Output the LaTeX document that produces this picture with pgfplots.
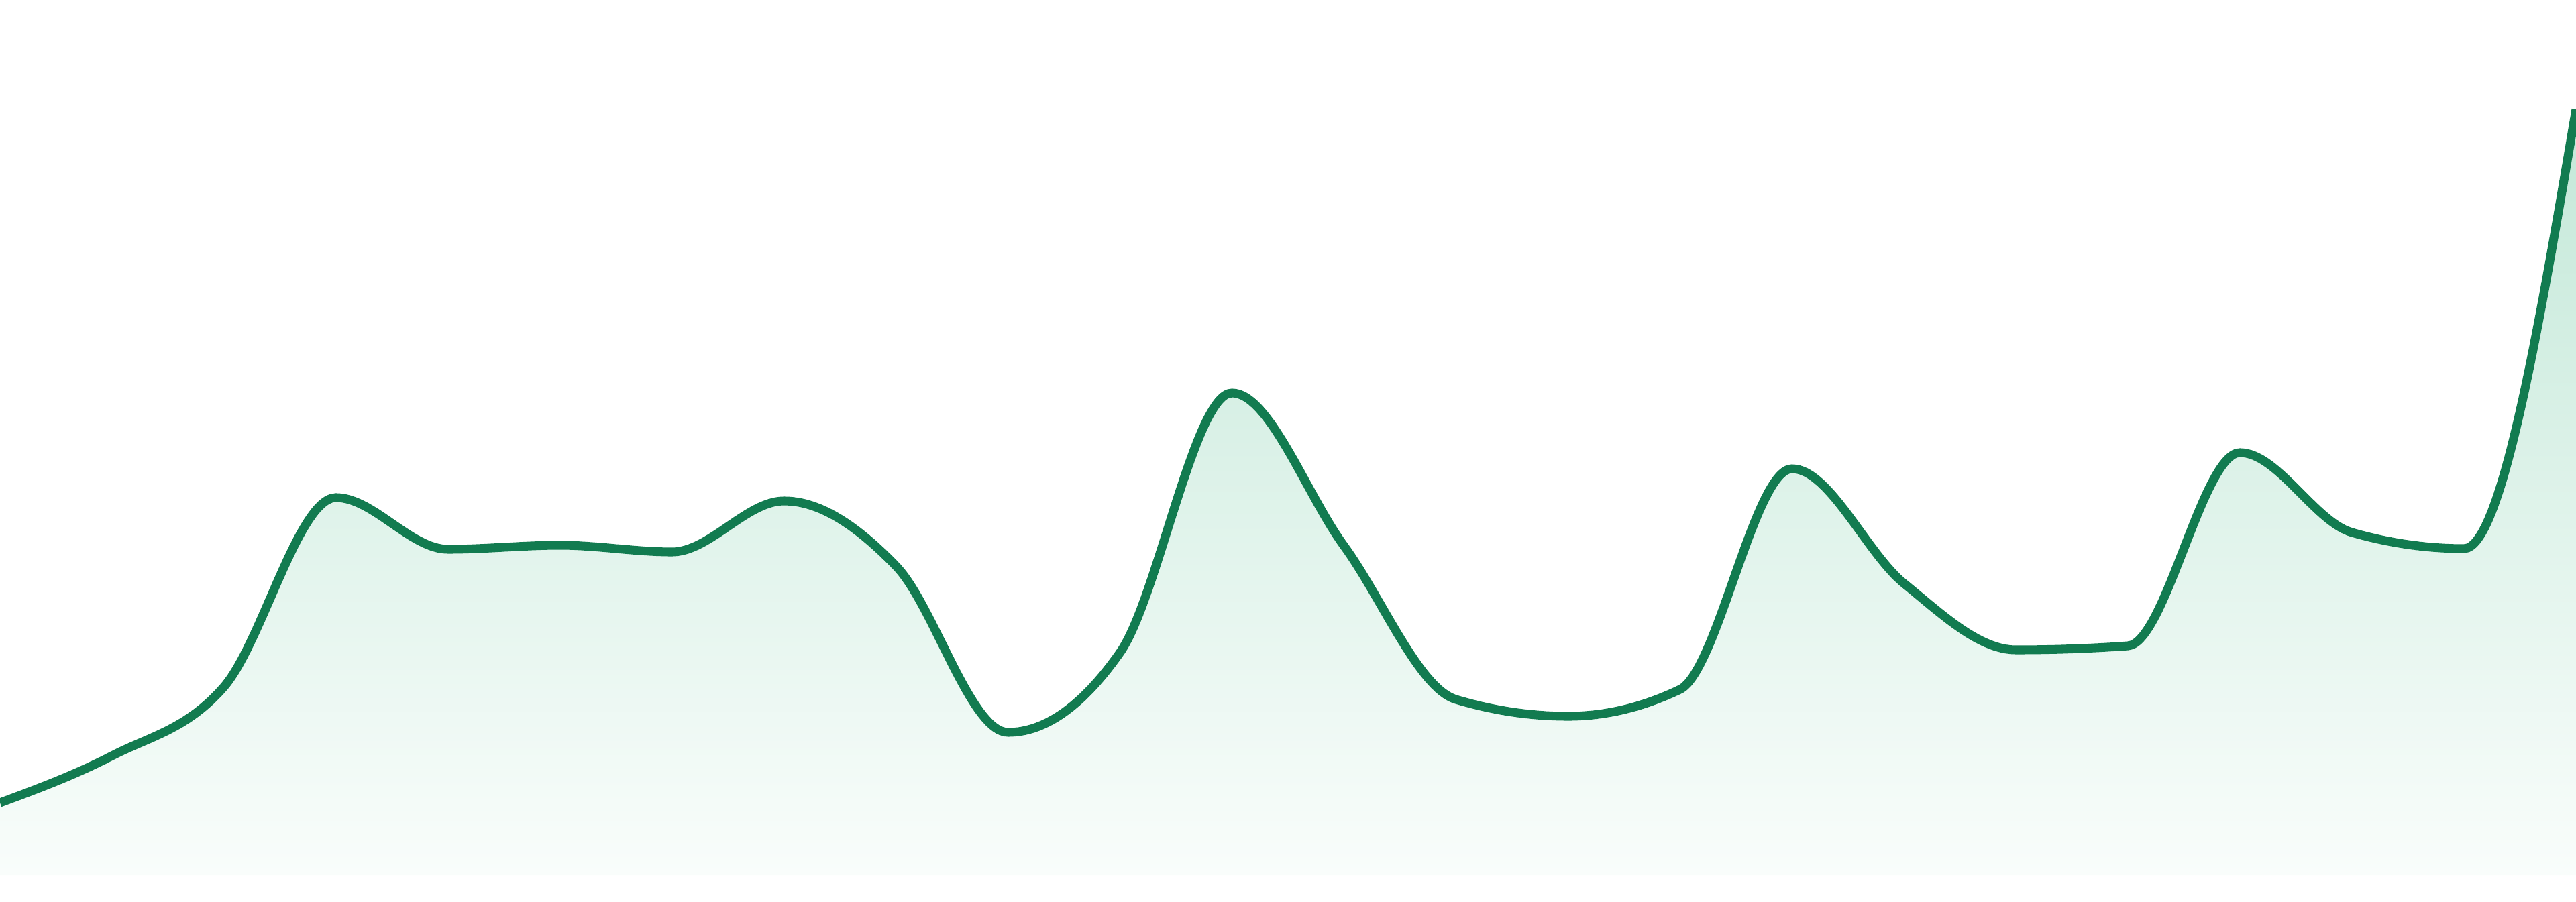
\documentclass[border=0pt]{standalone}
\usepackage{pgfplots}
\pgfplotsset{compat=1.18}

\definecolor{lineGreen}{RGB}{18,123,80}
\definecolor{fillTop}{RGB}{195,232,216}
\definecolor{fillBottom}{RGB}{249,253,251}

% monotone cubic plot handler (zero slope at local extrema, no overshoot)
\makeatletter
\newcount\mono@n
\newcount\mono@i
\newcount\mono@j
\def\pgfplothandlermonotone{%
  \def\pgf@plotstreamstart{%
    \global\mono@n=0\relax
    \global\let\pgf@plotstreampoint=\mono@point
    \global\let\pgf@plotstreampointoutlier=\pgfutil@gobble
    \global\let\pgf@plotstreampointundefined=\relax
    \global\let\pgf@plotstreamnewdataset=\relax
    \global\let\pgf@plotstreamspecial=\pgfutil@gobble
    \global\let\pgf@plotstreamend=\mono@finish
  }%
}
\def\mono@point#1{%
  \pgf@process{#1}%
  \global\advance\mono@n by 1\relax
  \expandafter\xdef\csname mono@x\the\mono@n\endcsname{\pgf@sys@tonumber\pgf@x}%
  \expandafter\xdef\csname mono@y\the\mono@n\endcsname{\pgf@sys@tonumber\pgf@y}%
}
\def\mono@val#1#2{\csname mono@#1\the#2\endcsname}
\def\mono@lit#1#2{\csname mono@#1#2\endcsname}
% secants
\def\mono@stepA{%
  \mono@j=\mono@i \advance\mono@j by 1\relax
  \edef\mono@xa{\mono@val{x}\mono@i}\edef\mono@xb{\mono@val{x}\mono@j}%
  \edef\mono@ya{\mono@val{y}\mono@i}\edef\mono@yb{\mono@val{y}\mono@j}%
  \pgfmathsetmacro\mono@h{(\mono@xb)-(\mono@xa)}%
  \pgfmathsetmacro\mono@s{((\mono@yb)-(\mono@ya))/(\mono@h)}%
  \expandafter\xdef\csname mono@h\the\mono@i\endcsname{\mono@h}%
  \expandafter\xdef\csname mono@s\the\mono@i\endcsname{\mono@s}%
}
\def\mono@whileA{\ifnum\mono@i<\mono@n \mono@stepA\advance\mono@i by 1\relax\expandafter\mono@whileA\fi}
% interior tangents
\def\mono@stepB{%
  \mono@j=\mono@i \advance\mono@j by -1\relax
  \edef\mono@sa{\mono@val{s}\mono@j}\edef\mono@sb{\mono@val{s}\mono@i}%
  \edef\mono@ha{\mono@val{h}\mono@j}\edef\mono@hb{\mono@val{h}\mono@i}%
  \pgfmathsetmacro\mono@p{((\mono@sa)*(\mono@hb)+(\mono@sb)*(\mono@ha))/((\mono@ha)+(\mono@hb))}%
  \pgfmathsetmacro\mono@m{(sign(\mono@sa)+sign(\mono@sb))*min(abs(\mono@sa),abs(\mono@sb),0.5*abs(\mono@p))}%
  \expandafter\xdef\csname mono@m\the\mono@i\endcsname{\mono@m}%
}
\def\mono@whileB{\ifnum\mono@i<\mono@n \mono@stepB\advance\mono@i by 1\relax\expandafter\mono@whileB\fi}
% segments
\def\mono@stepC{%
  \mono@j=\mono@i \advance\mono@j by 1\relax
  \edef\mono@xa{\mono@val{x}\mono@i}\edef\mono@xb{\mono@val{x}\mono@j}%
  \edef\mono@ya{\mono@val{y}\mono@i}\edef\mono@yb{\mono@val{y}\mono@j}%
  \edef\mono@ma{\mono@val{m}\mono@i}\edef\mono@mb{\mono@val{m}\mono@j}%
  \edef\mono@h{\mono@val{h}\mono@i}%
  \pgfmathsetmacro\mono@cax{(\mono@xa)+(\mono@h)/3}%
  \pgfmathsetmacro\mono@cay{(\mono@ya)+(\mono@ma)*(\mono@h)/3}%
  \pgfmathsetmacro\mono@cbx{(\mono@xb)-(\mono@h)/3}%
  \pgfmathsetmacro\mono@cby{(\mono@yb)-(\mono@mb)*(\mono@h)/3}%
  \pgfpathcurveto{\pgfqpoint{\mono@cax pt}{\mono@cay pt}}%
    {\pgfqpoint{\mono@cbx pt}{\mono@cby pt}}%
    {\pgfqpoint{\mono@xb pt}{\mono@yb pt}}%
}
\def\mono@whileC{\ifnum\mono@i<\mono@n \mono@stepC\advance\mono@i by 1\relax\expandafter\mono@whileC\fi}
\def\mono@finish{%
  \mono@i=1\relax \mono@whileA
  \mono@i=2\relax \mono@whileB
  % end tangents
  \edef\mono@sa{\mono@lit{s}{1}}\edef\mono@sb{\mono@lit{m}{2}}%
  \pgfmathsetmacro\mono@m{(3*(\mono@sa)-(\mono@sb))/2}%
  \expandafter\xdef\csname mono@m1\endcsname{\mono@m}%
  \mono@j=\mono@n \advance\mono@j by -1\relax
  \edef\mono@sa{\mono@val{s}\mono@j}\edef\mono@sb{\mono@val{m}\mono@j}%
  \pgfmathsetmacro\mono@m{(3*(\mono@sa)-(\mono@sb))/2}%
  \expandafter\xdef\csname mono@m\the\mono@n\endcsname{\mono@m}%
  \edef\mono@xa{\mono@lit{x}{1}}\edef\mono@ya{\mono@lit{y}{1}}%
  \pgf@plot@first@action{\pgfqpoint{\mono@xa pt}{\mono@ya pt}}%
  \mono@i=1\relax \mono@whileC
}
\tikzset{monotone/.code={\let\tikz@plot@handler=\pgfplothandlermonotone}}
\makeatother

% y = 1344 - pixel row of the reference, x = point index
\pgfplotstableread{
x y
0 147
1 217
2 320
3 602
4 525
5 531
6 521
7 597
8 500
9 252
10 371
11 758
12 530
13 301
14 276
15 316
16 645
17 474
18 375
19 381
20 669
21 550
22 526
23 1181
}\series

\begin{document}
\begin{tikzpicture}
\useasboundingbox (0,0) rectangle (16cm,5.6cm);
\begin{axis}[
    at={(0cm,0.1625cm)},
    anchor=south west,
    scale only axis,
    width=16cm,
    height=5.4375cm,
    xmin=0, xmax=23,
    ymin=39, ymax=1344,
    hide axis,
]
\addplot[draw=none, monotone, top color=fillTop, bottom color=fillBottom] table[x=x, y=y] {\series} \closedcycle;
\addplot[lineGreen, line width=1.55pt, monotone, no markers] table[x=x, y=y] {\series};
\end{axis}
\end{tikzpicture}
\end{document}
